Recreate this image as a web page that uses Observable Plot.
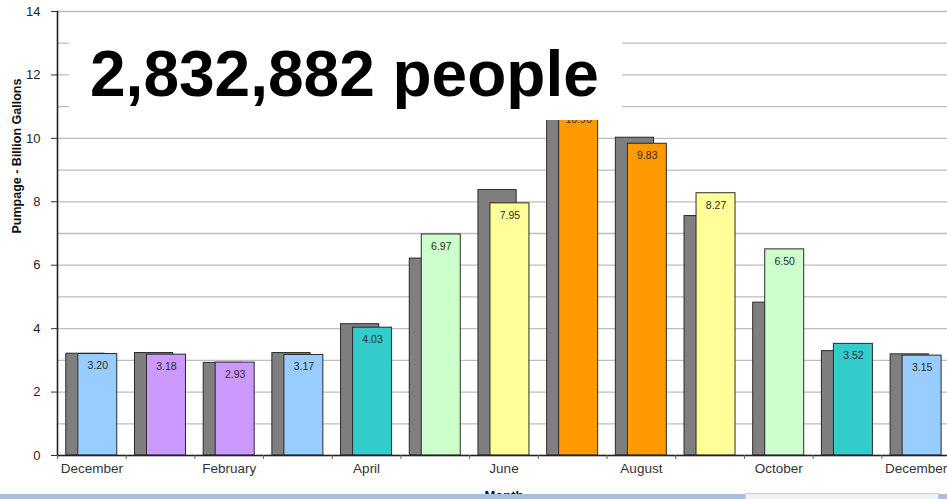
<!DOCTYPE html>
<html>
<head>
<meta charset="utf-8">
<script src="https://cdn.jsdelivr.net/npm/d3@7"></script>
<script src="https://cdn.jsdelivr.net/npm/@observablehq/plot@0.6"></script>
<style>
  html, body { margin: 0; padding: 0; background: #fff; }
  #wrap { position: relative; width: 947px; height: 499px; overflow: hidden; background: #fff; font-family: "Liberation Sans", Arial, sans-serif; }
  #chart svg { display: block; }
  #callout { position: absolute; left: 69px; top: 23px; width: 553px; height: 97px; background: #fff; }
  #callout span { position: absolute; left: 21px; top: 19px; font: bold 64px/64px "Liberation Sans", Arial, sans-serif; color: #000; white-space: nowrap; }
  #strip { position: absolute; left: 0; top: 494px; width: 947px; height: 5px; background: #a8bedf; }
  #slidebox { position: absolute; left: 745px; top: 493px; width: 192px; height: 10px; background: #eef1f6; border: 1px solid #c9ced6; }
</style>
</head>
<body>
<div id="wrap">
  <div id="chart"></div>
  <div id="callout"><span>2,832,882 people</span></div>
  <div id="strip"></div>
  <div id="slidebox"></div>
</div>
<script>
const months = ["December","January","February","March","April","May","June","July","August","September","October","November","December"];
const prevYear = [3.21, 3.23, 2.92, 3.23, 4.14, 6.21, 8.37, 10.85, 10.02, 7.55, 4.82, 3.29, 3.19];
const thisYear = [3.20, 3.18, 2.93, 3.17, 4.03, 6.97, 7.95, 10.96, 9.83, 8.27, 6.50, 3.52, 3.15];
const barColors = ["#99ccff","#cc99ff","#cc99ff","#99ccff","#33cccc","#ccffcc","#ffff99","#ff9900","#ff9900","#ffff99","#ccffcc","#33cccc","#99ccff"];
const yTicks = [0, 2, 4, 6, 8, 10, 12, 14];
const yGrid = [0,1,2,3,4,5,6,7,8,9,10,11,12,13,14];
const xLabelIdx = [0, 2, 4, 6, 8, 10, 12];
const yLabel = "Pumpage - Billion Gallons";
const xLabel = "Month";

const data = months.map((m, i) => ({i, month: m, prev: prevYear[i], cur: thisYear[i], color: barColors[i]}));

const W = 947, H = 499, mL = 57, mR = -3;
const step = (W - mR - mL) / months.length;

const chart = Plot.plot({
  width: W,
  height: H,
  marginLeft: mL,
  marginRight: mR,
  marginTop: 11,
  marginBottom: 44,
  style: {fontFamily: "Liberation Sans, Arial, sans-serif", background: "#fff", color: "#222"},
  x: {type: "band", domain: d3.range(months.length), padding: 0, round: false, axis: null},
  y: {domain: [0, 14], axis: null},
  marks: [
    Plot.gridY(yGrid, {stroke: "#bdbdbd", strokeOpacity: 1, strokeWidth: 1.3}),
    Plot.barY(data, {x: "i", y: "prev", fill: "#7f7f7f", stroke: "#2a2a2a", strokeWidth: 1, insetLeft: 8.8, insetRight: step - 47}),
    Plot.barY(data, {x: "i", y: "cur", fill: "color", stroke: "#2a2a2a", strokeWidth: 1, insetLeft: 20.8, insetRight: 8.9}),
    Plot.text(data, {x: "i", y: "cur", text: d => d.cur.toFixed(2), dx: (20.8 + step - 8.9) / 2 - step / 2, dy: 12, fontSize: 10.5, fill: "#2b2b2b", lineAnchor: "middle"}),
    Plot.ruleY([0], {stroke: "#222", strokeWidth: 1.6}),
    Plot.frame({anchor: "left", stroke: "#222", strokeWidth: 1.6}),
    Plot.axisY(yTicks, {tickSize: 6, tickPadding: 11, fontSize: 13, stroke: "#333", fill: "#222", label: null}),
    Plot.axisX(xLabelIdx, {tickSize: 0, tickPadding: 8, fontSize: 13.5, fill: "#333", tickFormat: i => months[i], label: null}),
    Plot.axisX(d3.range(months.length), {tickSize: 4, tickFormat: () => "", dx: -step / 2, stroke: "#666", label: null}),
    Plot.text([yLabel], {frameAnchor: "left", rotate: -90, dx: -41, fontSize: 12.5, fontWeight: "bold", fill: "#111"}),
    Plot.text([xLabel], {frameAnchor: "bottom", dy: 35, lineAnchor: "top", fontSize: 13, fontWeight: "bold", fill: "#111"})
  ]
});
document.getElementById("chart").appendChild(chart);
</script>
</body>
</html>
